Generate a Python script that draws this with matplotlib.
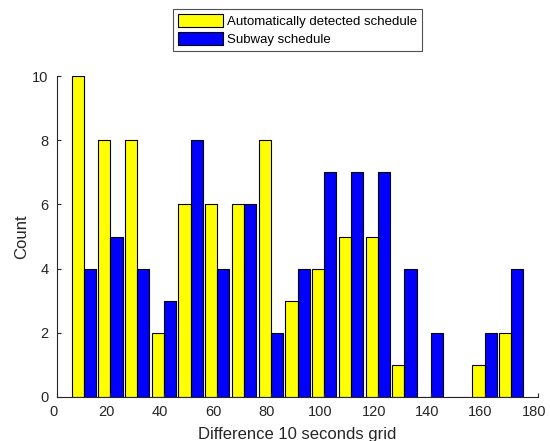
import matplotlib.pyplot as plt
import matplotlib.transforms as mtransforms
import numpy as np

plt.rcParams['font.family'] = ['Liberation Sans', 'DejaVu Sans']

centers = np.arange(10, 180, 10)
auto_counts = [10, 8, 8, 2, 6, 6, 6, 8, 3, 4, 5, 5, 1, 0, 0, 1, 2]
subway_counts = [4, 5, 4, 3, 8, 4, 6, 2, 4, 7, 7, 7, 4, 2, 0, 2, 4]

fig = plt.figure(figsize=(5.5, 4.41), dpi=100)
ax = fig.add_axes([57/550, 44/441, 481/550, 321/441])

w = 4.55
ax.bar(centers - w/2, auto_counts, width=w, color='#ffff00', edgecolor='black',
       linewidth=0.8, label='Automatically detected schedule')
ax.bar(centers + w/2, subway_counts, width=w, color='#0000ff', edgecolor='black',
       linewidth=0.8, label='Subway schedule')

ax.set_xlim(0, 180)
ax.set_ylim(0, 10)
ax.set_xticks(np.arange(0, 181, 20))
ax.set_yticks(np.arange(0, 11, 2))
ax.spines['top'].set_visible(False)
ax.spines['right'].set_visible(False)
ax.spines['left'].set_color('#262626')
ax.spines['bottom'].set_color('#262626')
ax.tick_params(direction='in', length=3, labelsize=10.5, colors='#262626', pad=6)

# tick labels sit a bit left of their ticks in the original
shift = mtransforms.ScaledTranslation(-4/100, 0, fig.dpi_scale_trans)
for lab in ax.get_xticklabels():
    lab.set_transform(lab.get_transform() + shift)

ax.set_xlabel('Difference 10 seconds grid', fontsize=12, color='#262626', labelpad=5.5)
ax.set_ylabel('Count', fontsize=12, color='#262626', labelpad=2.5)

leg = fig.legend(loc='upper center', bbox_to_anchor=(297.5/550, 1 - 9/441), fontsize=9.5,
                 frameon=True, fancybox=False, edgecolor='#262626',
                 handlelength=3.35, handleheight=1.14, handletextpad=0.3,
                 borderpad=0.4, labelspacing=0.3, borderaxespad=0)
leg.get_frame().set_linewidth(0.8)

fig.savefig('out.png', dpi=100)
